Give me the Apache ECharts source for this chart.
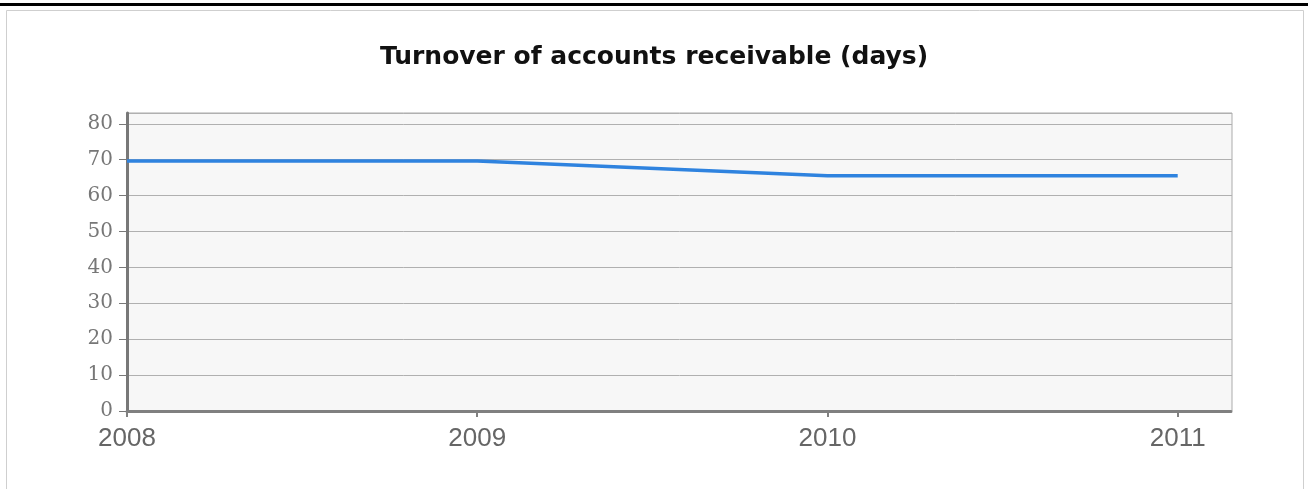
<!DOCTYPE html>
<html>
<head>
<meta charset="utf-8">
<script src="https://cdn.jsdelivr.net/npm/echarts@6/dist/echarts.min.js"></script>
<style>
html,body{margin:0;padding:0;background:#fff;}
#chart{width:1308px;height:489px;}
</style>
</head>
<body>
<div id="chart"></div>
<script>
const titleText = 'Turnover of accounts receivable (days)';
const years = [2008, 2009, 2010, 2011];
const days = [69.6, 69.6, 65.5, 65.5];
const yTicks = [0, 10, 20, 30, 40, 50, 60, 70, 80];

const chart = echarts.init(document.getElementById('chart'), null, {renderer: 'canvas'});
chart.setOption({
  animation: false,
  backgroundColor: '#ffffff',
  title: {
    text: titleText,
    left: 'center',
    top: 40,
    textStyle: {fontFamily: 'DejaVu Sans', fontWeight: 'bold', fontSize: 25, color: '#111'}
  },
  graphic: [
    {type: 'rect', shape: {x: 0, y: 3, width: 1308, height: 3}, style: {fill: '#000'}, silent: true},
    {type: 'rect', shape: {x: 6.5, y: 10.5, width: 1297, height: 490}, style: {fill: 'none', stroke: '#cfcfcf', lineWidth: 1}, silent: true}
  ],
  grid: {
    left: 127, right: 76, top: 113, bottom: 78,
    show: true, backgroundColor: '#f7f7f7', borderColor: '#ababab', borderWidth: 1
  },
  xAxis: {
    type: 'value',
    min: 2008, max: 2011.155, interval: 1,
    axisLine: {show: true, lineStyle: {color: '#808080', width: 3, type: [4, 1]}},
    axisTick: {show: true, length: 6, lineStyle: {color: '#808080', width: 2}},
    splitLine: {show: false},
    axisLabel: {
      showMaxLabel: false,
      margin: 15,
      fontFamily: 'Liberation Sans', fontSize: 26, color: '#666',
      formatter: function (v) { return years.indexOf(Math.round(v)) >= 0 && Math.abs(v - Math.round(v)) < 1e-6 ? String(Math.round(v)) : ''; }
    }
  },
  yAxis: {
    type: 'value',
    min: 0, max: 83, interval: 10,
    axisLine: {show: true, lineStyle: {color: '#787878', width: 3}},
    axisTick: {show: true, length: 8, inside: false, lineStyle: {color: '#787878', width: 1}},
    splitLine: {show: true, lineStyle: {color: '#b0b0b0', width: 1}},
    axisLabel: {
      showMaxLabel: false,
      margin: 14,
      fontFamily: 'DejaVu Serif', fontSize: 20, color: '#777',
      formatter: function (v) { return yTicks.indexOf(v) >= 0 ? String(v) : ''; }
    }
  },
  series: [{
    type: 'line',
    data: years.map((y, i) => [y, days[i]]),
    showSymbol: false,
    lineStyle: {color: '#2f83df', width: 3.5},
    itemStyle: {color: '#2f83df'}
  }]
});
</script>
</body>
</html>
